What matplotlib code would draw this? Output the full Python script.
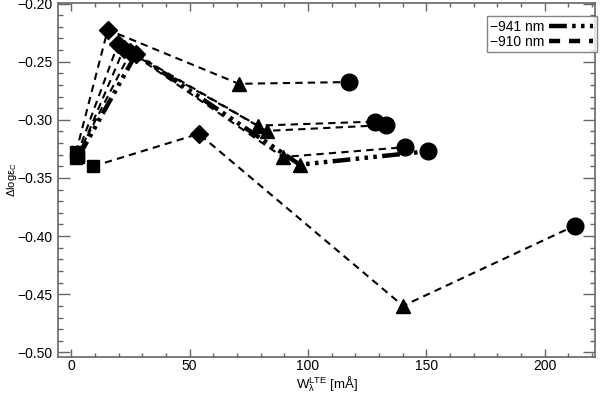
import matplotlib
matplotlib.use("Agg")
import matplotlib.pyplot as plt
from matplotlib.lines import Line2D
from matplotlib.ticker import MultipleLocator

plt.rcParams['font.family'] = ['Liberation Sans', 'DejaVu Sans']
plt.rcParams['mathtext.fontset'] = 'custom'
plt.rcParams['mathtext.rm'] = 'Liberation Sans'
plt.rcParams['mathtext.it'] = 'Liberation Sans'

# each series: square -> diamond -> triangle -> circle
markers = ['s', 'D', '^', 'o']
msizes = [8.5, 9.5, 10, 12]

# 910 nm lines (dashed)
x910 = [
    [2.0, 15.4, 70.8, 117.5],
    [2.5, 19.7, 78.8, 128.3],
    [3.0, 22.2, 82.5, 132.8],
    [2.0, 25.0, 89.4, 141.2],
    [9.2, 53.9, 140.2, 212.8],
]
y910 = [
    [-0.328, -0.2225, -0.269, -0.2675],
    [-0.330, -0.235, -0.305, -0.3015],
    [-0.331, -0.239, -0.3095, -0.3045],
    [-0.333, -0.242, -0.332, -0.3235],
    [-0.340, -0.312, -0.460, -0.391],
]

# 941 nm line (dash-dot-dot-dot)
x941 = [3.0, 27.3, 96.6, 150.8]
y941 = [-0.332, -0.2436, -0.3386, -0.327]

legend_labels = ['\u2212941 nm', '\u2212910 nm']

fig = plt.figure(figsize=(6.05, 3.93), dpi=100)
ax = fig.add_axes([0.0959, 0.0924, 0.8876, 0.9])

dash910 = (0, (3.5, 2.5))
dash941 = (0, (4, 1.2, 0.8, 1.2, 0.8, 1.2, 0.8, 1.2))

for xs, ys in zip(x910, y910):
    ax.plot(xs, ys, color='black', lw=1.5, ls=dash910, zorder=2)
    for xv, yv, m, ms in zip(xs, ys, markers, msizes):
        ax.plot(xv, yv, marker=m, ms=ms, color='black', ls='none', zorder=3)

ax.plot(x941, y941, color='black', lw=3.2, ls=dash941, zorder=2)
for xv, yv, m, ms in zip(x941, y941, markers, msizes):
    ax.plot(xv, yv, marker=m, ms=ms, color='black', ls='none', zorder=3)

ax.set_xlim(-5.6, 221.3)
ax.set_ylim(-0.5037, -0.1995)

ax.xaxis.set_major_locator(MultipleLocator(50))
ax.xaxis.set_minor_locator(MultipleLocator(10))
ax.yaxis.set_major_locator(MultipleLocator(0.05))
ax.yaxis.set_minor_locator(MultipleLocator(0.01))
ax.yaxis.set_major_formatter(matplotlib.ticker.FuncFormatter(
    lambda v, p: ('%.2f' % v).replace('-', '\u2212')))

gray = '#666666'
for s in ax.spines.values():
    s.set_color(gray)
    s.set_linewidth(1.2)
ax.tick_params(which='both', direction='in', top=True, right=True,
               color=gray, labelsize=10, width=1)
ax.tick_params(axis='y', which='major', length=8.5, pad=4)
ax.tick_params(axis='y', which='minor', length=3.6)
ax.tick_params(axis='x', which='major', length=5.5, pad=2)
ax.tick_params(axis='x', which='minor', length=3)

ax.set_xlabel(r'W$_\lambda^\mathrm{LTE}$ [mÅ]', fontsize=9.5)
ax.xaxis.set_label_coords(0.5, -0.049, transform=ax.transAxes)
ax.xaxis.label.set_va('top')
ax.set_ylabel(r'Δlogε$_\mathrm{C}$', fontsize=8)
ax.yaxis.set_label_coords(-0.073, 0.5)

handles = [Line2D([], [], color='black', lw=3.2, ls=dash941),
           Line2D([], [], color='black', lw=3.2, ls=(0, (2.5, 2)))]
leg = ax.legend(handles, legend_labels, loc='upper right', markerfirst=False,
                fontsize=10, handlelength=3.2, handletextpad=0.3,
                borderpad=0.25, labelspacing=0.05, frameon=True,
                fancybox=False, bbox_to_anchor=(1.003, 0.962),
                borderaxespad=0)
leg.get_frame().set_edgecolor(gray)
leg.get_frame().set_linewidth(1.0)

fig.savefig('out.png', dpi=100)
